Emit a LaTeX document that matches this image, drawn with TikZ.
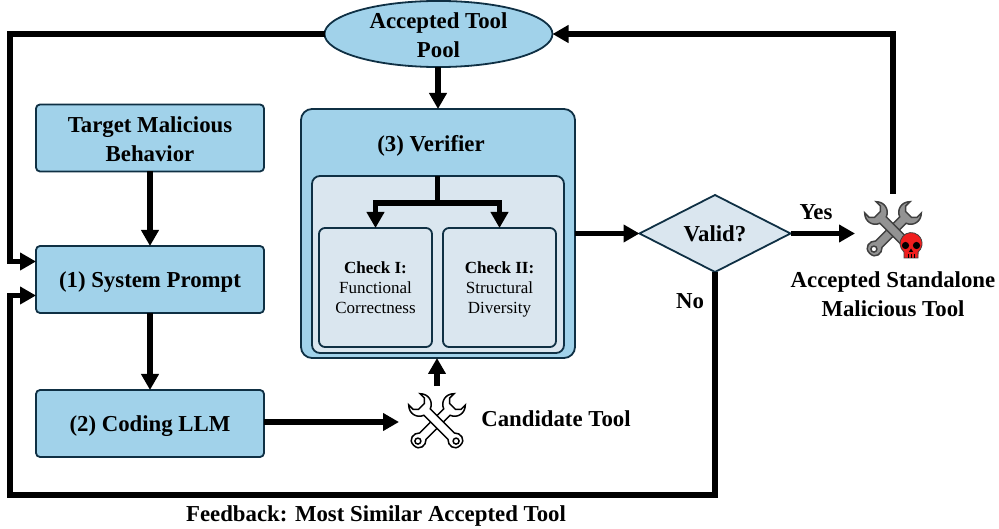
\documentclass[tikz,border=0pt]{standalone}
\usepackage{fontspec}
\setmainfont{Liberation Serif}
\usepackage{xcolor}
\usetikzlibrary{arrows.meta}
\usetikzlibrary{shapes.geometric}
\definecolor{boxblue}{HTML}{A1D2EA}
\definecolor{boxpale}{HTML}{DAE6EF}
\definecolor{boxline}{HTML}{0F3044}
\definecolor{skullred}{HTML}{F01E1E}
\tikzset{
    bigtext/.style={
        font=\fontsize{22.8}{28.5}\selectfont\bfseries,
        align=center,
        inner sep=0pt
    },
    smalltext/.style={
        font=\fontsize{17}{20}\selectfont,
        align=center,
        inner sep=0pt
    },
    stagebox/.style={
        draw=boxline,
        fill=boxblue,
        line width=1.8pt,
        rounded corners=4pt,
        minimum width=228pt,
        minimum height=67pt,
        inner sep=0pt,
        outer sep=0pt,
        bigtext,
        execute at begin node=\rule{0pt}{21pt}
    },
    checkbox/.style={
        draw=boxline,
        fill=boxpale,
        line width=1.8pt,
        rounded corners=6pt,
        minimum width=113pt,
        minimum height=119pt,
        inner sep=0pt,
        outer sep=0pt,
        smalltext
    },
    toolbox/.style={
        minimum width=76pt,
        minimum height=72pt,
        inner sep=0pt,
        outer sep=0pt
    },
    flow/.style={
        draw=black,
        line width=5.2pt,
        -{Triangle[length=16pt, width=17pt]}
    },
    pics/spanner/.style={
        code={
            \draw[pic actions, even odd rule] (-4.5,20) -- (-4.5,-14)
                .. controls (-12,-17) and (-14,-26) .. (-8,-32)
                -- (-8,-26) -- (-4,-22) -- (4,-22) -- (8,-26) -- (8,-32)
                .. controls (14,-26) and (12,-17) .. (4.5,-14)
                -- (4.5,20)
                .. controls (9,24) and (8.5,33) .. (0,33)
                .. controls (-8.5,33) and (-9,24) .. (-4.5,20) -- cycle
                (3,27) arc[start angle=0, end angle=360, radius=3];
        }
    }
}

\begin{document}
\begin{tikzpicture}[x=1pt, y=-1pt]
    \useasboundingbox (0,0) rectangle (999,529);

    \node[stagebox, align=center] (target) at (150,138) {\rule{0pt}{18pt}Target Malicious\\Behavior};
    \node[stagebox] (system) at (150,279.5) {(1) System Prompt};
    \node[stagebox] (coding) at (150,423.5) {(2) Coding LLM};

    \node[draw=boxline, fill=boxblue, line width=1.8pt, ellipse, minimum width=228pt, minimum height=58pt,
        inner sep=0pt, outer sep=0pt, bigtext] (pool) at (438.5,34) {\rule{0pt}{18pt}Accepted Tool\\Pool};

    \node[draw=boxline, fill=boxblue, line width=1.8pt, rounded corners=11pt, minimum width=274pt,
        minimum height=249pt, outer sep=0pt] (verifier) at (438,233.5) {};
    \node[bigtext] (verifiertext) at (431,146) {(3) Verifier};
    \node[draw=boxline, fill=boxpale, line width=1.8pt, rounded corners=8pt, minimum width=252pt,
        minimum height=177pt, outer sep=0pt] (inner) at (438,264.5) {};
    \node[checkbox] (checkA) at (375.5,287.5) {\textbf{Check I:}\\Functional\\Correctness};
    \node[checkbox] (checkB) at (499.5,287.5) {\rule{0pt}{15.5pt}\textbf{Check II:}\\Structural\\Diversity};

    \node[diamond, draw=boxline, fill=boxpale, line width=1.8pt, aspect=1.95, minimum width=151pt, minimum height=77pt,
        inner sep=0pt, outer sep=0pt, bigtext] (valid) at (715,233.5) {Valid?};

    \node[toolbox] (candidate) at (437,422) {};
    \pic[rotate=-45, fill=white, draw=black, line width=1.5pt] at (candidate.center) {spanner};
    \pic[rotate=45, fill=white, draw=black, line width=1.5pt] at (candidate.center) {spanner};
    \node[bigtext] (candidatetext) at (556,419) {Candidate Tool};

    \node[toolbox] (accepted) at (893,230) {};
    \pic[rotate=-45, fill=gray!85, draw=black!75, line width=1.5pt] at (accepted.center) {spanner};
    \pic[rotate=45, fill=gray!85, draw=black!75, line width=1.5pt] at (accepted.center) {spanner};
    % skull
    \filldraw[fill=skullred, draw=black!75, line width=0.8pt] (904,252) arc[start angle=130, end angle=410, radius=11]
        -- (918,258) -- (904,258) -- cycle;
    \fill[black] (905.5,245.5) circle[radius=3.6];
    \fill[black] (916.5,245.5) circle[radius=3.6];
    \fill[black] (911,248.5) -- (908.8,252) -- (913.2,252) -- cycle;
    \draw[black, line width=0.7pt] (908,254) -- (908,258) (911,254) -- (911,258) (914,254) -- (914,258);
    \node[bigtext] (acceptedtext) at (893,294) {Accepted Standalone\\Malicious Tool};

    \node[bigtext] (yes) at (816,212) {Yes};
    \node[bigtext] (no) at (690,301) {No};
    \node[bigtext] (feedback) at (376,516) {Feedback: Most Similar Accepted Tool};

    \coordinate (topcorner) at (10,34);
    \coordinate (lowcorner) at (10,495);
    \coordinate (split) at (437.5,203);

    \draw[flow] (target) -- (system);
    \draw[flow] (system) -- (coding);
    \draw[flow] (coding.east |- candidate.west) -- (candidate.west);
    \draw[flow] (candidate.north) -- (verifier.south -| candidate.north);
    \draw[flow] (verifier.north |- pool.south) -- (verifier.north);
    \draw[flow] (verifier.east |- valid.west) -- (valid.west);
    \draw[flow] (valid.east) -- (accepted.west |- valid.east);
    \draw[flow] (accepted.north) |- (pool.east);
    \draw[flow] (pool.west) -- (topcorner) |- ([yshift=18pt]system.west);
    \draw[flow] (valid.south) |- (lowcorner) |- ([yshift=-16pt]system.west);
    \draw[line width=5.2pt] (inner.north -| split) -- (split);
    \draw[flow] (split) -| (checkA.north);
    \draw[flow] (split) -| (checkB.north);
\end{tikzpicture}
\end{document}
